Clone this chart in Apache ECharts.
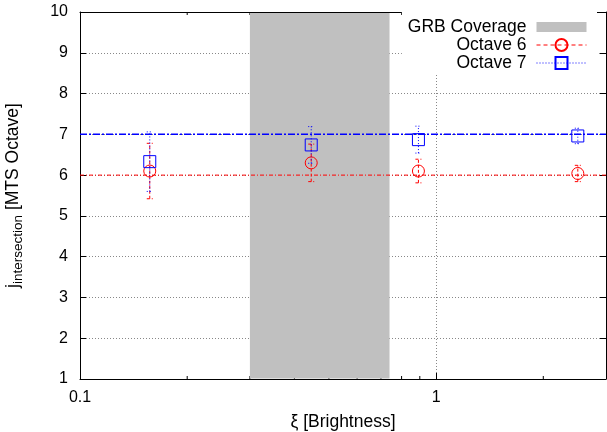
<!DOCTYPE html>
<html><head><meta charset="utf-8">
<script src="https://cdn.jsdelivr.net/npm/echarts@6/dist/echarts.min.js"></script>
<style>html,body{margin:0;padding:0;background:#fff}#c{width:607px;height:432px}</style>
</head><body><div id="c"></div>
<script>
const xBrightness = [0.157, 0.446, 0.892, 2.50];
const oct6Values = [6.10, 6.30, 6.10, 6.04];
const oct6Errors = [0.68, 0.46, 0.29, 0.20];
const oct7Values = [6.33, 6.74, 6.87, 6.96];
const oct7Errors = [0.73, 0.45, 0.33, 0.19];
const levelOct6 = 6;
const levelOct7 = 7;
const grbCoverage = [0.3, 0.74];
const minorTicks = [0.2, 0.3, 0.4, 0.5, 0.6, 0.7, 0.8, 0.9, 2];
const xRange = [0.1, 3];
const yRange = [1, 10];

const FONT = 'Liberation Sans, Arial, sans-serif';
const RED = '#ff0000', BLUE = '#0000ff', GRAY = '#c0c0c0';

function errorBarRender(dash, color) {
  return function (params, api) {
    const x = api.value(0), lo = api.value(1), hi = api.value(2);
    const pLo = api.coord([x, lo]);
    const pHi = api.coord([x, hi]);
    const hw = 3;
    const style = { stroke: color, lineWidth: 1, lineDash: dash, fill: null };
    return {
      type: 'group',
      children: [
        { type: 'line', shape: { x1: pLo[0], y1: pLo[1], x2: pHi[0], y2: pHi[1] }, style: style },
        { type: 'line', shape: { x1: pLo[0] - hw, y1: pLo[1], x2: pLo[0] + hw, y2: pLo[1] }, style: style },
        { type: 'line', shape: { x1: pHi[0] - hw, y1: pHi[1], x2: pHi[0] + hw, y2: pHi[1] }, style: style }
      ]
    };
  };
}

function levelSeries(name, level, color, dash, width) {
  return {
    type: 'line', name: name, silent: true, symbol: 'none', z: 3,
    data: [[xRange[0], level], [xRange[1], level]],
    lineStyle: { color: color, type: dash, width: width },
    itemStyle: { color: color }
  };
}

const chart = echarts.init(document.getElementById('c'), null, { renderer: 'canvas' });
const option = {
  animation: false,
  backgroundColor: '#fff',
  textStyle: { fontFamily: FONT },
  grid: { left: 80, right: 1, top: 12, bottom: 53, containLabel: false, outerBoundsMode: 'none' },
  legend: {
    orient: 'vertical', right: 10, top: 12, align: 'right',
    itemWidth: 50, itemHeight: 15, itemGap: 0,
    backgroundColor: '#fff', padding: [6, 10, 1, 6],
    textStyle: { fontSize: 17.5, lineHeight: 17.5, fontFamily: FONT, color: '#000', padding: [0, 5, 0, 0] },
    selectedMode: false,
    data: [
      { name: 'GRB Coverage', icon: 'path://M0,0H50V10H0Z', itemStyle: { color: GRAY, borderWidth: 0 } },
      { name: 'Octave 6', lineStyle: { color: RED, type: [4, 3], width: 1, opacity: 1 } },
      { name: 'Octave 7', lineStyle: { color: BLUE, type: [1, 2], width: 1, opacity: 1 } }
    ]
  },
  xAxis: [{
    type: 'log', logBase: 10, min: xRange[0], max: xRange[1],
    name: 'ξ [Brightness]', nameLocation: 'middle', nameGap: 34,
    nameTextStyle: { fontSize: 17.5, fontFamily: FONT, color: '#000' },
    axisLine: { lineStyle: { color: '#000', width: 1 } },
    axisTick: { inside: true, length: 6, lineStyle: { color: '#000' } },
    axisLabel: { fontSize: 16, fontFamily: FONT, color: '#000', margin: 11, showMaxLabel: false },
    splitLine: { show: true, lineStyle: { color: '#888', type: [1, 2], width: 1 } }
  }, {
    type: 'log', logBase: 10, min: xRange[0], max: xRange[1], position: 'top',
    axisLine: { lineStyle: { color: '#000', width: 1 } },
    axisTick: { inside: true, length: 6, lineStyle: { color: '#000' } },
    axisLabel: { show: false }, splitLine: { show: false }
  }],
  yAxis: [{
    type: 'value', min: yRange[0], max: yRange[1], interval: 1,
    name: '{m|j}{s|intersection}{m| [MTS Octave]}', nameLocation: 'middle', nameGap: 55, nameRotate: 90,
    nameTextStyle: {
      fontFamily: FONT, color: '#000',
      rich: {
        m: { fontSize: 17.5, fontFamily: FONT, color: '#000', lineHeight: 24, verticalAlign: 'middle' },
        s: { fontSize: 13.5, fontFamily: FONT, color: '#000', lineHeight: 14, verticalAlign: 'bottom' }
      }
    },
    axisLine: { show: true, lineStyle: { color: '#000', width: 1 } },
    axisTick: { inside: true, length: 6, lineStyle: { color: '#000' } },
    axisLabel: { fontSize: 16, fontFamily: FONT, color: '#000', margin: 12 },
    splitLine: { show: true, lineStyle: { color: '#888', type: [1, 2], width: 1 } }
  }, {
    type: 'value', min: yRange[0], max: yRange[1], interval: 1, position: 'right',
    axisLine: { show: true, lineStyle: { color: '#000', width: 1 } },
    axisTick: { inside: true, length: 6, lineStyle: { color: '#000' } },
    axisLabel: { show: false }, splitLine: { show: false }
  }],
  series: [
    {
      type: 'line', name: 'Octave 6',
      data: xBrightness.map((x, i) => [x, oct6Values[i]]),
      symbol: 'circle', symbolSize: 12,
      itemStyle: { color: 'rgba(0,0,0,0)', borderColor: RED, borderWidth: 1 },
      lineStyle: { opacity: 0 },
      z: 5
    },
    {
      type: 'line', name: 'Octave 7',
      data: xBrightness.map((x, i) => [x, oct7Values[i]]),
      symbol: 'rect', symbolSize: 12,
      itemStyle: { color: 'rgba(0,0,0,0)', borderColor: BLUE, borderWidth: 1 },
      lineStyle: { opacity: 0 },
      z: 5
    },
    {
      type: 'custom', name: 'minor', silent: true, z: 1,
      encode: { x: 0, y: 1 },
      data: minorTicks.map(v => [v, yRange[0]]),
      renderItem: function (params, api) {
        const cs = params.coordSys;
        const x = api.coord([api.value(0), api.value(1)])[0];
        const b = cs.y + cs.height, t = cs.y;
        const st = { stroke: '#000', lineWidth: 1 };
        return { type: 'group', children: [
          { type: 'line', shape: { x1: x, y1: b, x2: x, y2: b - 3 }, style: st },
          { type: 'line', shape: { x1: x, y1: t, x2: x, y2: t + 3 }, style: st }
        ] };
      }
    },
    {
      type: 'custom', name: 'GRB Coverage', silent: true, z: 2,
      itemStyle: { color: GRAY },
      encode: { x: [0, 1], y: 2 },
      data: [[grbCoverage[0], grbCoverage[1], yRange[0]]],
      renderItem: function (params, api) {
        const cs = params.coordSys;
        const x0 = api.coord([api.value(0), api.value(2)])[0];
        const x1 = api.coord([api.value(1), api.value(2)])[0];
        return { type: 'rect', shape: { x: x0, y: cs.y + 1, width: x1 - x0, height: cs.height - 1.5 }, style: { fill: GRAY } };
      }
    },
    levelSeries('level6', levelOct6, RED, [4, 2, 1, 2], 1),
    levelSeries('level7', levelOct7, BLUE, [7, 2, 2, 2], 1.5),
    {
      type: 'custom', name: 'Octave 6', silent: true,
      encode: { x: 0, y: [1, 2] },
      data: xBrightness.map((x, i) => [x, oct6Values[i] - oct6Errors[i], oct6Values[i] + oct6Errors[i]]),
      renderItem: errorBarRender([3, 2], RED), z: 4
    },
    {
      type: 'custom', name: 'Octave 7', silent: true,
      encode: { x: 0, y: [1, 2] },
      data: xBrightness.map((x, i) => [x, oct7Values[i] - oct7Errors[i], oct7Values[i] + oct7Errors[i]]),
      renderItem: errorBarRender([1, 2], BLUE), z: 4
    }
  ]
};
chart.setOption(option);
</script>
</body></html>
